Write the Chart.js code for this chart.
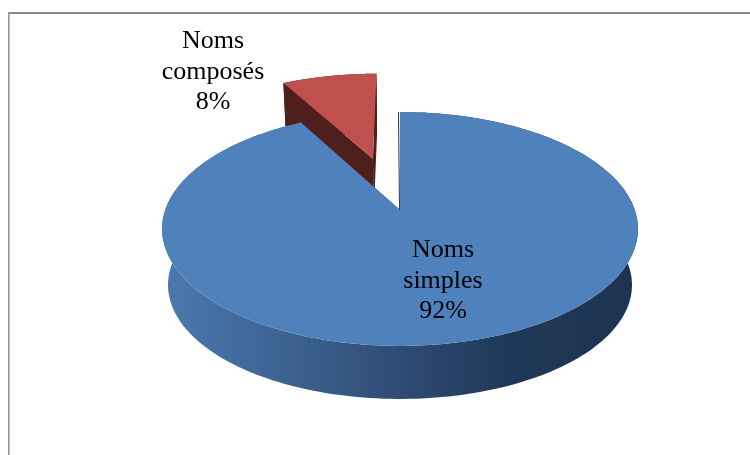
<!DOCTYPE html>
<html>
<head>
<meta charset="utf-8">
<style>html,body{margin:0;padding:0;background:#fff}canvas{display:block}</style>
<script src="https://cdn.jsdelivr.net/npm/chart.js@4"></script>
</head>
<body>
<canvas id="c" width="750" height="455"></canvas>
<script>
const categories = ["Noms simples", "Noms composés"];
const shares = [92, 8];
const explode = [0, 0.5];
const topColors = ["#4f81bd", "#c0504d"];
const wallColors = ["#1f3552", "#4f1f1e"];

const RADIUS = 234.8;
const PERSPECTIVE = 0.162;
const TOP_FACE = {scale: 1, dy: 0, tilt: 0.485};
const BOTTOM_FACE = {scale: 0.975, dy: 56.5, tilt: 0.4727};

function project(el, u, v, face) {
  const d = 1 - PERSPECTIVE * v;
  return {
    x: el.x + el.outerRadius * face.scale * u / d,
    y: el.y + face.dy + el.outerRadius * face.tilt * v / d
  };
}
function unitOffset(el) {
  const mid = (el.startAngle + el.endAngle) / 2;
  const d = (el.options.offset || 0) / el.outerRadius;
  return {u: d * Math.cos(mid), v: d * Math.sin(mid)};
}
function rim(el, face) {
  const off = unitOffset(el), pts = [], n = 240;
  for (let i = 0; i <= n; i++) {
    const a = el.startAngle + (el.endAngle - el.startAngle) * i / n;
    pts.push(project(el, off.u + Math.cos(a), off.v + Math.sin(a), face));
  }
  return pts;
}
function apex(el, face) {
  const off = unitOffset(el);
  return project(el, off.u, off.v, face);
}
function poly(ctx, pts, fill) {
  ctx.beginPath();
  pts.forEach((p, i) => i ? ctx.lineTo(p.x, p.y) : ctx.moveTo(p.x, p.y));
  ctx.closePath();
  ctx.fillStyle = fill;
  ctx.fill();
}

const pie3d = {
  id: "pie3d",
  beforeDatasetDraw(chart, args) {
    const ctx = chart.ctx;
    const arcs = args.meta.data;
    ctx.save();

    // frame
    ctx.fillStyle = "#888888";
    ctx.fillRect(8, 12, 742, 2);
    ctx.fillStyle = "#959595";
    ctx.fillRect(8, 12, 1.6, 443);

    // exploded slice first, the big slice overlaps it
    [1, 0].forEach(i => {
      const el = arcs[i];
      const topRim = rim(el, TOP_FACE), botRim = rim(el, BOTTOM_FACE);
      const a0 = apex(el, TOP_FACE), a1 = apex(el, BOTTOM_FACE);

      // inner walls
      poly(ctx, [a0, topRim[0], botRim[0], a1], wallColors[i]);
      poly(ctx, [a0, topRim[topRim.length - 1], botRim[botRim.length - 1], a1], wallColors[i]);

      // outer wall
      let wall = wallColors[i];
      if (i === 0) {
        const g = ctx.createLinearGradient(162, 0, 638, 0);
        g.addColorStop(0, "#4b79b0");
        g.addColorStop(0.31, "#3a5e8b");
        g.addColorStop(0.5, "#2e4c74");
        g.addColorStop(0.72, "#203958");
        g.addColorStop(1, "#1d3450");
        wall = g;
      }
      poly(ctx, topRim.concat(botRim.slice().reverse()), wall);

      // top face
      poly(ctx, [a0].concat(topRim), topColors[i]);

      if (i === 0) {
        ctx.strokeStyle = wallColors[0];
        ctx.lineWidth = 1;
        ctx.beginPath();
        ctx.moveTo(topRim[0].x - 1.5, topRim[0].y);
        ctx.lineTo(a0.x - 0.5, a0.y);
        ctx.stroke();
      }
    });
    ctx.restore();
    return false;
  },
  afterDraw(chart) {
    const ctx = chart.ctx;
    const total = shares.reduce((a, b) => a + b, 0);
    const anchors = [{x: 443, y: 257}, {x: 213, y: 48}];
    ctx.save();
    ctx.font = '26px "Liberation Serif"';
    ctx.fillStyle = "#000";
    ctx.textAlign = "center";
    ctx.textBaseline = "alphabetic";
    categories.forEach((name, i) => {
      const lines = name.split(" ").concat(Math.round(shares[i] / total * 100) + "%");
      lines.forEach((t, j) => ctx.fillText(t, anchors[i].x, anchors[i].y + j * 30.7));
    });
    ctx.restore();
  }
};

new Chart(document.getElementById("c"), {
  type: "pie",
  data: {
    labels: categories,
    datasets: [{
      data: shares,
      backgroundColor: topColors,
      borderWidth: 0,
      offset: explode.map(e => e * RADIUS)
    }]
  },
  options: {
    responsive: false,
    animation: false,
    radius: RADIUS,
    layout: {padding: {left: 50, bottom: 35}},
    plugins: {legend: {display: false}, tooltip: {enabled: false}}
  },
  plugins: [pie3d]
});
</script>
</body>
</html>
